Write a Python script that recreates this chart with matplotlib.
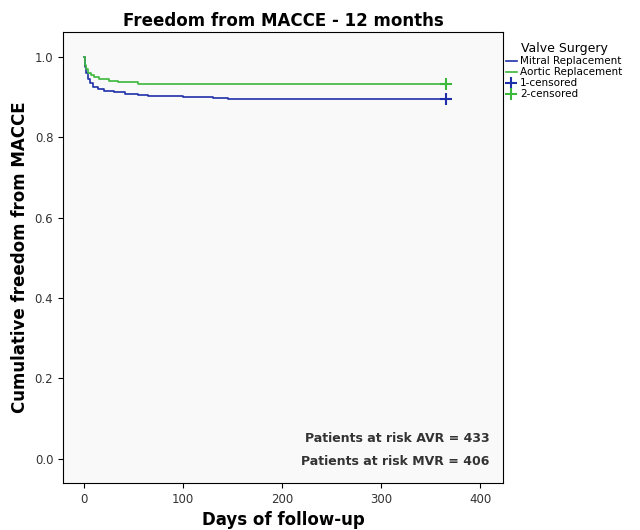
import matplotlib
matplotlib.use("Agg")
import matplotlib.pyplot as plt

# Kaplan-Meier step values
mvr_days = [0, 1, 2, 4, 6, 9, 14, 20, 30, 42, 55, 65, 100, 130, 145, 365]
mvr_surv = [1.0, 0.975, 0.96, 0.945, 0.935, 0.925, 0.92, 0.915, 0.912, 0.908, 0.905, 0.902, 0.900, 0.898, 0.895, 0.895]
avr_days = [0, 1, 2, 4, 7, 10, 15, 25, 35, 55, 365]
avr_surv = [1.0, 0.98, 0.97, 0.96, 0.955, 0.95, 0.945, 0.94, 0.937, 0.932, 0.932]

BLUE = "#1f2fa8"
GREEN = "#3cb83c"

fig = plt.figure(figsize=(6.4, 5.3), dpi=100)
ax = fig.add_axes([63 / 640, 1 - 483 / 530, 440 / 640, 451 / 530])
ax.set_facecolor("#f9f9f9")

ax.step(mvr_days, mvr_surv, where="post", color=BLUE, lw=1.2, label="Mitral Replacement")
ax.step(avr_days, avr_surv, where="post", color=GREEN, lw=1.2, label="Aortic Replacement")
ax.plot([365], [mvr_surv[-1]], "+", color=BLUE, ms=8, mew=1.5, label="1-censored")
ax.plot([365], [avr_surv[-1]], "+", color=GREEN, ms=8, mew=1.5, label="2-censored")

ax.set_xlim(-21, 423)
ax.set_ylim(-0.06, 1.062)
ax.set_xticks([0, 100, 200, 300, 400])
ax.set_yticks([0.0, 0.2, 0.4, 0.6, 0.8, 1.0])
ax.set_yticklabels(["0.0", "0.2", "0.4", "0.6", "0.8", "1.0"])
ax.tick_params(labelsize=8.5, labelcolor="#333333")
ax.set_xlabel("Days of follow-up", fontsize=12, fontweight="bold")
ax.set_ylabel("Cumulative freedom from MACCE", fontsize=12, fontweight="bold")
ax.set_title("Freedom from MACCE - 12 months", fontsize=12, fontweight="bold", pad=4)

ax.text(0.97, 0.09, "Patients at risk AVR = 433", transform=ax.transAxes,
        ha="right", fontsize=9, fontweight="bold", color="#333333")
ax.text(0.97, 0.04, "Patients at risk MVR = 406", transform=ax.transAxes,
        ha="right", fontsize=9, fontweight="bold", color="#333333")

leg = fig.legend(loc="upper left", bbox_to_anchor=(500 / 640, 1 - 36 / 530),
                 frameon=False, fontsize=7.5, title="Valve Surgery",
                 handlelength=1.0, handletextpad=0.3, labelspacing=0.1,
                 borderaxespad=0.2)
leg.get_title().set_fontsize(9)

fig.savefig("out.png", dpi=100)
